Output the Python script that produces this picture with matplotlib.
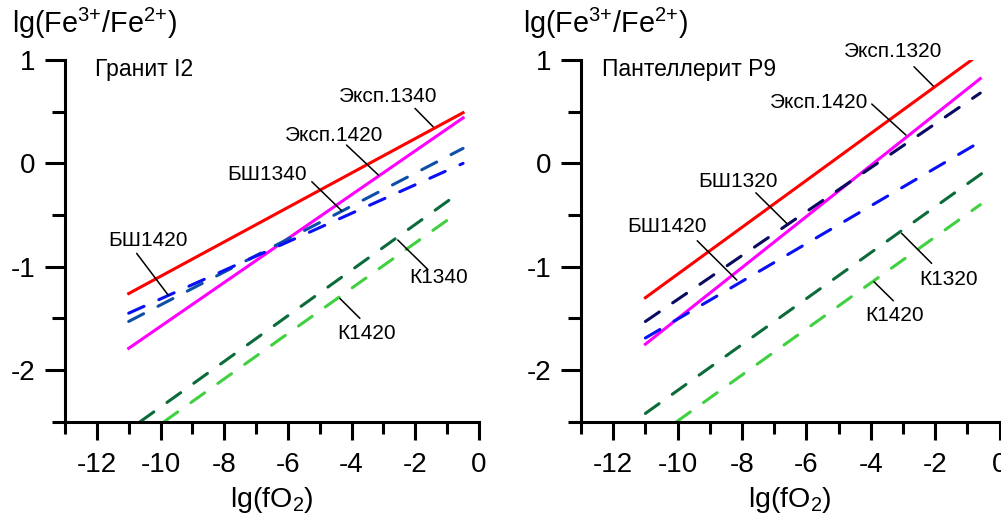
import matplotlib
matplotlib.use("Agg")
import matplotlib.pyplot as plt
from matplotlib.ticker import MultipleLocator

plt.rcParams['font.family'] = ['Liberation Sans', 'DejaVu Sans']
plt.rcParams['mathtext.fontset'] = 'custom'
plt.rcParams['mathtext.rm'] = 'Liberation Sans'
plt.rcParams['mathtext.default'] = 'regular'
plt.rcParams['axes.unicode_minus'] = False

# ---- data ----
# left panel: Гранит I2
granite_exp1340_x = [-11, -0.5]
granite_exp1340_y = [-1.26, 0.49]
granite_exp1420_x = [-11, -0.5]
granite_exp1420_y = [-1.79, 0.44]
granite_bsh1340_x = [-11, -0.5]
granite_bsh1340_y = [-1.53, 0.145]
granite_bsh1420_x = [-11, -0.5]
granite_bsh1420_y = [-1.45, 0.0]
granite_k1340_x = [-10.64, -0.82]
granite_k1340_y = [-2.5, -0.33]
granite_k1420_x = [-9.89, -0.86]
granite_k1420_y = [-2.5, -0.52]

# right panel: Пантеллерит P9
pant_exp1320_x = [-11, -0.87]
pant_exp1320_y = [-1.30, 1.0]
pant_exp1420_x = [-11, -0.6]
pant_exp1420_y = [-1.75, 0.82]
pant_bsh1320_x = [-11, -0.6]
pant_bsh1320_y = [-1.53, 0.68]
pant_bsh1420_x = [-11, -0.65]
pant_bsh1420_y = [-1.69, 0.2]
pant_k1320_x = [-11, -0.56]
pant_k1320_y = [-2.42, -0.10]
pant_k1420_x = [-10.03, -0.6]
pant_k1420_y = [-2.5, -0.40]

# labels: text, text centre, leader start, leader end
granite_labels = [
    ('Эксп.1340', (-2.86, 0.647), (-2.01, 0.532), (-1.44, 0.354)),
    ('Эксп.1420', (-4.55, 0.274), (-4.16, 0.177), (-3.16, -0.113)),
    ('БШ1340', (-6.64, -0.108), (-5.25, -0.178), (-4.31, -0.459)),
    ('БШ1420', (-10.38, -0.742), (-10.75, -0.871), (-9.76, -1.275)),
    ('К1340', (-1.26, -1.105), (-1.61, -1.026), (-2.55, -0.742)),
    ('К1420', (-3.52, -1.648), (-3.74, -1.5), (-4.37, -1.307)),
]
pant_labels = [
    ('Эксп.1320', (-3.31, 1.087), (-2.66, 0.935), (-2.06, 0.748)),
    ('Эксп.1420', (-5.61, 0.584), (-3.97, 0.574), (-2.91, 0.274)),
    ('БШ1320', (-8.11, -0.176), (-7.57, -0.285), (-6.61, -0.581)),
    ('БШ1420', (-10.33, -0.612), (-9.39, -0.749), (-8.16, -1.13)),
    ('К1320', (-1.6, -1.125), (-2.11, -0.968), (-3.04, -0.678)),
    ('К1420', (-3.25, -1.473), (-3.3, -1.33), (-3.9, -1.146)),
]

RED = '#ff0000'
MAGENTA = '#ff00ff'
BLUE = '#0a10f5'
STEEL = '#0d4fa8'
NAVY = '#0a0a60'
DGREEN = '#0b6b3a'
LGREEN = '#40d040'

LW = 2.2
DASH = (5.5, 5.3)


def style_axes(ax):
    ax.set_xlim(-13, 0)
    ax.set_ylim(-2.5, 1)
    for s in ['top', 'right']:
        ax.spines[s].set_visible(False)
    for s in ['left', 'bottom']:
        ax.spines[s].set_linewidth(2.2)
    ax.xaxis.set_major_locator(MultipleLocator(2))
    ax.xaxis.set_minor_locator(MultipleLocator(1))
    ax.yaxis.set_major_locator(MultipleLocator(1))
    ax.yaxis.set_minor_locator(MultipleLocator(0.5))
    ax.tick_params(axis='x', which='major', direction='out', length=13, width=2.2,
                   labelsize=20, pad=9)
    ax.tick_params(axis='x', which='minor', direction='out', length=8.5, width=2.2)
    ax.tick_params(axis='y', which='major', direction='out', length=14.5, width=2.2,
                   labelsize=20, pad=7)
    ax.tick_params(axis='y', which='minor', direction='out', length=9.5, width=2.2)
    ax.set_xlabel('lg(fO$_2$)', fontsize=20.5, labelpad=5)


def add_labels(ax, labels):
    for text, txy, p0, p1 in labels:
        ax.annotate('', xy=p1, xytext=p0,
                    arrowprops=dict(arrowstyle='-', color='black', lw=1.1,
                                    shrinkA=0, shrinkB=0))
        ax.text(txy[0], txy[1], text, fontsize=15, ha='center', va='center')


fig = plt.figure(figsize=(10.01, 5.22), dpi=100)
bottom = (522 - 421.7) / 522
height = 361.7 / 522
ax1 = fig.add_axes([65 / 1001, bottom, 414 / 1001, height])
ax2 = fig.add_axes([581 / 1001, bottom, 418.6 / 1001, height])

# left
ax1.plot(granite_exp1340_x, granite_exp1340_y, color=RED, lw=LW)
ax1.plot(granite_exp1420_x, granite_exp1420_y, color=MAGENTA, lw=LW)
for xs, ys, c in [(granite_bsh1340_x, granite_bsh1340_y, STEEL),
                  (granite_bsh1420_x, granite_bsh1420_y, BLUE),
                  (granite_k1340_x, granite_k1340_y, DGREEN),
                  (granite_k1420_x, granite_k1420_y, LGREEN)]:
    ax1.plot(xs, ys, color=c, lw=LW, linestyle=(0, DASH), dash_capstyle='round')
style_axes(ax1)
add_labels(ax1, granite_labels)
ax1.text(0.0725, 0.974, 'Гранит I2', transform=ax1.transAxes, fontsize=16.5,
         ha='left', va='center')

# right
ax2.plot(pant_exp1320_x, pant_exp1320_y, color=RED, lw=LW)
ax2.plot(pant_exp1420_x, pant_exp1420_y, color=MAGENTA, lw=LW)
for xs, ys, c in [(pant_bsh1320_x, pant_bsh1320_y, NAVY),
                  (pant_bsh1420_x, pant_bsh1420_y, BLUE),
                  (pant_k1320_x, pant_k1320_y, DGREEN),
                  (pant_k1420_x, pant_k1420_y, LGREEN)]:
    ax2.plot(xs, ys, color=c, lw=LW, linestyle=(0, DASH), dash_capstyle='round')
style_axes(ax2)
add_labels(ax2, pant_labels)
ax2.text(0.05, 0.974, 'Пантеллерит P9', transform=ax2.transAxes, fontsize=16.5,
         ha='left', va='center')

ylab = r'$lg(Fe^{3{+}}/Fe^{2{+}})$'
fig.text(12 / 1001, (522 - 33) / 522, ylab, fontsize=20.7, ha='left', va='baseline')
fig.text(523 / 1001, (522 - 33) / 522, ylab, fontsize=20.7, ha='left', va='baseline')

fig.savefig('out.png', dpi=100)
